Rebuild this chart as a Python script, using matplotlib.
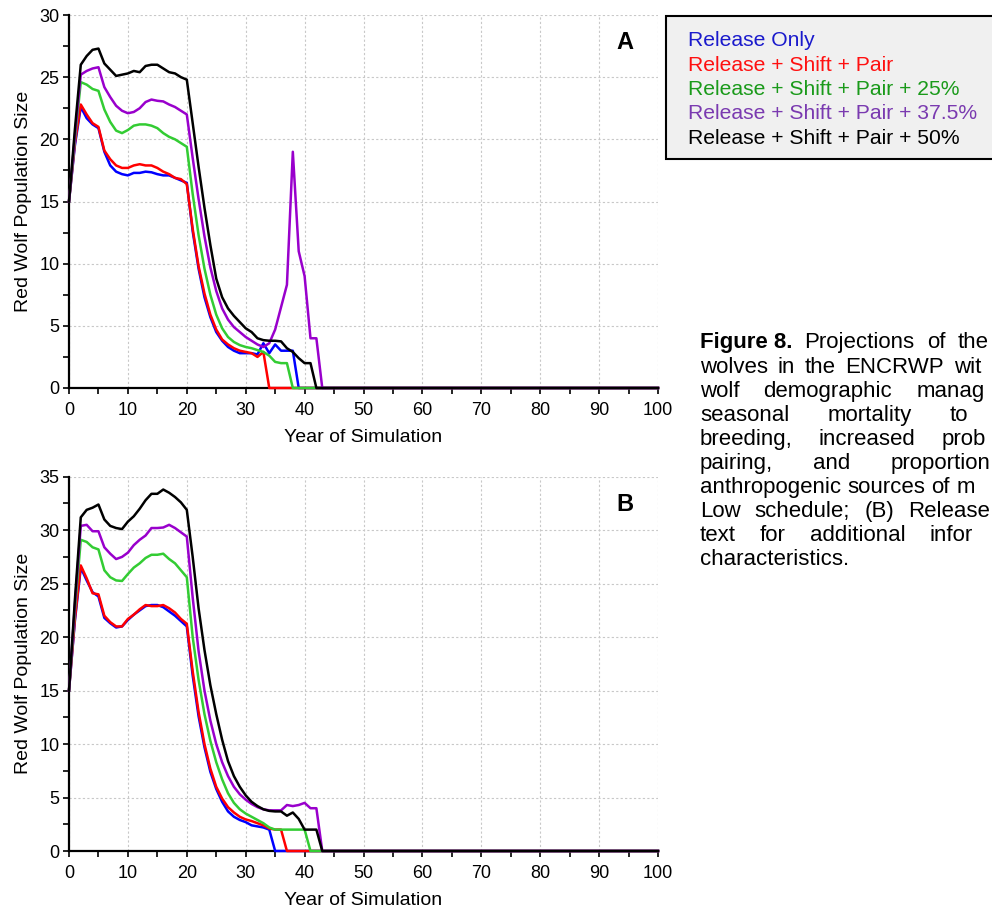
import matplotlib
matplotlib.use("Agg")
import matplotlib.pyplot as plt
from matplotlib.patches import Rectangle
from matplotlib.ticker import MultipleLocator

plt.rcParams['font.family'] = ['Liberation Sans', 'DejaVu Sans']

# years 0..43, then the flat zero tail out to year 100
years = list(range(0, 44)) + [100]

labels = ['Release Only', 'Release + Shift + Pair', 'Release + Shift + Pair + 25%',
          'Release + Shift + Pair + 37.5%', 'Release + Shift + Pair + 50%']
line_colors = ['#0000ff', '#ff0000', '#33cc33', '#9900cc', '#000000']
text_colors = ['#1a1acc', '#ff1010', '#1a9a1a', '#7a3ab0', '#000000']

# panel A (Release Low schedule)
a_release = [15, 19.5, 22.6, 21.7, 21.2, 20.9, 19.0, 17.9, 17.4, 17.2, 17.1, 17.3, 17.3, 17.4, 17.35,
             17.2, 17.1, 17.1, 16.9, 16.7, 16.5, 12.6, 9.6, 7.3, 5.7, 4.5, 3.8, 3.3, 3.0, 2.8,
             2.8, 2.8, 2.7, 3.6, 2.8, 3.5, 3.0, 3.0, 3.0, 0, 0, 0, 0, 0, 0]
a_pair = [15, 19.7, 22.8, 22.0, 21.3, 21.0, 19.1, 18.4, 17.9, 17.7, 17.7, 17.9, 18.0, 17.9, 17.9,
          17.7, 17.4, 17.2, 16.9, 16.8, 16.4, 12.8, 9.8, 7.6, 5.9, 4.7, 3.9, 3.5, 3.2, 3.0,
          2.9, 2.8, 2.5, 2.9, 0, 0, 0, 0, 0, 0, 0, 0, 0, 0, 0]
a_p25 = [15, 20.0, 24.6, 24.4, 24.05, 23.9, 22.4, 21.4, 20.7, 20.5, 20.75, 21.1, 21.2, 21.2, 21.1,
         20.9, 20.5, 20.2, 20.0, 19.7, 19.4, 15.6, 12.3, 9.6, 7.5, 5.9, 4.8, 4.1, 3.7, 3.45,
         3.3, 3.2, 3.05, 2.9, 2.6, 2.1, 2.0, 2.0, 0, 0, 0, 0, 0, 0, 0]
a_p375 = [15, 20.3, 25.2, 25.5, 25.7, 25.8, 24.2, 23.4, 22.7, 22.3, 22.1, 22.2, 22.5, 23.0, 23.2,
          23.1, 23.05, 22.8, 22.6, 22.3, 22.0, 18.5, 15.2, 12.2, 9.7, 7.8, 6.4, 5.5, 4.9, 4.5,
          4.1, 3.8, 3.5, 3.3, 3.6, 4.7, 6.5, 8.3, 19.0, 11.0, 9.0, 4.0, 4.0, 0, 0]
a_p50 = [15, 20.8, 26.0, 26.7, 27.2, 27.3, 26.1, 25.6, 25.1, 25.2, 25.3, 25.5, 25.4, 25.9, 26.0,
         26.0, 25.7, 25.4, 25.3, 25.0, 24.8, 21.3, 17.8, 14.5, 11.5, 8.8, 7.3, 6.4, 5.8, 5.3,
         4.8, 4.5, 4.0, 3.85, 3.8, 3.8, 3.75, 3.2, 2.9, 2.4, 2.0, 2.0, 0, 0, 0]

# panel B (Release schedule)
b_release = [15, 21.5, 26.5, 25.3, 24.2, 23.8, 21.8, 21.3, 20.9, 21.0, 21.6, 22.1, 22.5, 22.9, 23.0,
             23.0, 22.8, 22.4, 22.0, 21.5, 21.0, 16.4, 12.6, 9.7, 7.4, 5.8, 4.6, 3.7, 3.2, 2.9,
             2.7, 2.4, 2.3, 2.2, 2.0, 0, 0, 0, 0, 0, 0, 0, 0, 0, 0]
b_pair = [15, 21.7, 26.7, 25.5, 24.1, 24.0, 22.0, 21.4, 21.0, 21.0, 21.7, 22.1, 22.6, 23.0, 22.9,
          22.9, 23.0, 22.7, 22.3, 21.7, 21.25, 16.8, 13.0, 10.0, 7.7, 6.0, 4.9, 4.1, 3.6, 3.2,
          2.95, 2.8, 2.6, 2.4, 2.1, 2.0, 2.0, 0, 0, 0, 0, 0, 0, 0, 0]
b_p25 = [15, 22.5, 29.1, 28.9, 28.4, 28.2, 26.25, 25.6, 25.3, 25.25, 25.9, 26.5, 26.9, 27.4, 27.7,
         27.7, 27.8, 27.3, 26.9, 26.25, 25.6, 20.0, 16.0, 12.8, 10.3, 8.3, 6.7, 5.4, 4.5, 3.9,
         3.5, 3.2, 2.9, 2.6, 2.2, 2.0, 2.0, 2.0, 2.0, 2.0, 2.0, 0, 0, 0, 0]
b_p375 = [15, 23.0, 30.4, 30.5, 29.9, 29.9, 28.4, 27.8, 27.3, 27.5, 27.9, 28.6, 29.1, 29.5, 30.2,
          30.2, 30.25, 30.5, 30.2, 29.8, 29.4, 23.7, 18.7, 15.0, 12.2, 10.0, 8.3, 7.0, 6.0, 5.3,
          4.8, 4.4, 4.1, 3.9, 3.8, 3.8, 3.8, 4.3, 4.2, 4.3, 4.5, 4.0, 4.0, 0, 0]
b_p50 = [15, 23.5, 31.2, 31.9, 32.1, 32.4, 31.0, 30.4, 30.2, 30.1, 30.8, 31.3, 32.0, 32.8, 33.4,
         33.4, 33.8, 33.5, 33.1, 32.6, 31.9, 27.5, 22.7, 18.8, 15.5, 12.8, 10.4, 8.4, 7.0, 6.0,
         5.2, 4.6, 4.2, 3.9, 3.75, 3.7, 3.7, 3.3, 3.6, 3.0, 2.0, 2.0, 2.0, 0, 0]

panel_a = [a_release, a_pair, a_p25, a_p375, a_p50]
panel_b = [b_release, b_pair, b_p25, b_p375, b_p50]

# caption lines as shown (the page cuts them at the right edge); gap = justified word spacing in px
caption_lines = [
    ['Figure 8.', 'Projections', 'of', 'the'],
    ['wolves', 'in', 'the', 'ENCRWP', 'wit'],
    ['wolf', 'demographic', 'manag'],
    ['seasonal', 'mortality', 'to'],
    ['breeding,', 'increased', 'prob'],
    ['pairing,', 'and', 'proportion'],
    ['anthropogenic', 'sources', 'of', 'm'],
    ['Low', 'schedule;', '(B)', 'Release'],
    ['text', 'for', 'additional', 'infor'],
    ['characteristics.'],
]
caption_gaps = [12, 9.7, 24, 38, 26, 40, 6.2, 14, 24, 0]

fig = plt.figure(figsize=(9.92, 9.07), dpi=100)
W, H = 992, 907
axA = fig.add_axes([69 / W, 1 - 388 / H, 589 / W, 373 / H])
axB = fig.add_axes([69 / W, 1 - 851 / H, 589 / W, 374.3 / H])


def style_axis(ax, series, ymax, letter):
    for vals, c in zip(series, line_colors):
        ax.plot(years, vals, color=c, lw=1.8, zorder=3, clip_on=False)
    ax.set_xlim(0, 100)
    ax.set_ylim(0, ymax)
    ax.xaxis.set_major_locator(MultipleLocator(10))
    ax.xaxis.set_minor_locator(MultipleLocator(5))
    ax.yaxis.set_major_locator(MultipleLocator(5))
    ax.yaxis.set_minor_locator(MultipleLocator(2.5))
    ax.grid(True, which='major', color='#c8c8c8', linestyle=(0, (2, 2)), lw=0.8)
    ax.set_axisbelow(True)
    for s in ['top', 'right']:
        ax.spines[s].set_visible(False)
    for s in ['left', 'bottom']:
        ax.spines[s].set_linewidth(1.6)
    ax.tick_params(which='both', direction='out', length=4, width=1.2, labelsize=13, pad=3)
    ax.tick_params(axis='x', pad=6)
    ax.set_xlabel('Year of Simulation', fontsize=14, labelpad=7)
    ax.set_ylabel('Red Wolf Population Size', fontsize=14, labelpad=5)
    ax.text(0.944, 0.925, letter, transform=ax.transAxes, fontsize=17, fontweight='bold',
            ha='center', va='center')


style_axis(axA, panel_a, 30, 'A')
style_axis(axB, panel_b, 35, 'B')

# legend box (runs off the right edge)
fig.patches.append(Rectangle((666 / W, 1 - 159 / H), 400 / W, 143 / H, transform=fig.transFigure,
                             facecolor='#f0f0f0', edgecolor='black', lw=1.5, zorder=0))
for i, (lab, c) in enumerate(zip(labels, text_colors)):
    fig.text(688 / W, 1 - (41 + 24.3 * i) / H, lab, color=c, fontsize=15.2, va='center', ha='left')

# caption, words laid out one by one to mimic the justified paragraph
renderer = fig.canvas.get_renderer()
for i, (words, gap) in enumerate(zip(caption_lines, caption_gaps)):
    y = 343 + 24.1 * i
    x = 700
    for j, word in enumerate(words):
        wt = 'bold' if (i == 0 and j == 0) else 'normal'
        t = fig.text(x / W, 1 - y / H, word, fontsize=16, fontweight=wt, va='center', ha='left')
        x += t.get_window_extent(renderer).width + gap

fig.savefig('out.png', dpi=100)
